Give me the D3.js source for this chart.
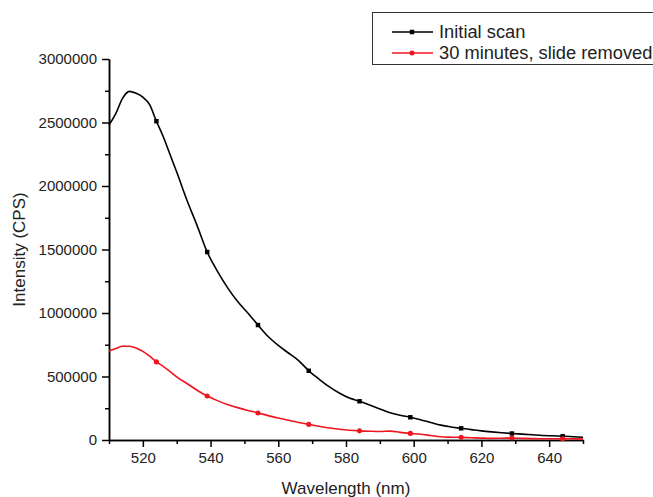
<!DOCTYPE html>
<html>
<head>
<meta charset="utf-8">
<script src="https://cdn.jsdelivr.net/npm/d3@7"></script>
<style>
  body { margin: 0; background: #fff; }
  svg { display: block; }
</style>
</head>
<body>
<div id="chart"></div>
<script>
// Wavelength (nm) sample points
const wavelengths = [510, 512, 514, 516, 518, 520, 522, 524, 526, 528, 530, 533, 536, 539, 542, 545, 548, 551, 554, 557,
  560, 563, 566, 569, 572, 575, 578, 581, 584, 587, 590, 593, 596, 599, 602, 605, 608, 611, 614, 617,
  620, 623, 626, 629, 632, 635, 638, 641, 644, 647, 650];

// Initial scan intensities (CPS)
const initialScan = [2480000, 2570000, 2690000, 2745000, 2730000, 2700000, 2640000, 2510000, 2390000, 2250000,
  2110000, 1890000, 1690000, 1480000, 1330000, 1200000, 1090000, 1000000, 905000, 815000,
  745000, 685000, 625000, 545000, 480000, 420000, 370000, 330000, 305000, 275000,
  245000, 215000, 195000, 179000, 160000, 138000, 117000, 103000, 92000, 82000,
  72000, 64000, 57000, 51000, 46000, 41000, 36000, 33000, 30000, 26000, 22000];

// 30 minutes, slide removed
const slideRemoved = [700000, 720000, 738000, 738000, 725000, 698000, 660000, 615000, 580000, 540000,
  497000, 445000, 392000, 346000, 310000, 280000, 255000, 233000, 213000, 192000,
  173000, 155000, 138000, 123000, 108000, 95000, 85000, 77000, 72000, 69000,
  67000, 70000, 60000, 52000, 45000, 35000, 25000, 22000, 21000, 18000,
  15000, 13000, 14000, 15000, 13000, 11000, 10000, 10000, 10000, 9000, 8000];

// wavelengths where symbols are drawn
const markerWavelengths = [524, 539, 554, 569, 584, 599, 614, 629, 644];

const seriesNames = ["Initial scan", "30 minutes, slide removed"];
const xTicks = [520, 540, 560, 580, 600, 620, 640];
const yTicks = [0, 500000, 1000000, 1500000, 2000000, 2500000, 3000000];

const width = 653, height = 497;
const margin = { top: 59, right: 70, bottom: 57, left: 109 };

const svg = d3.select("#chart").append("svg")
    .attr("width", width)
    .attr("height", height)
    .style("font-family", "'Liberation Sans', Arial, sans-serif");

const x = d3.scaleLinear().domain([510, 650]).range([margin.left, width - margin.right]);
const y = d3.scaleLinear().domain([0, 3000000]).range([height - margin.bottom, margin.top]);

// Axes with major and minor ticks
const xAxis = d3.axisBottom(x).tickValues(xTicks).tickSize(7).tickSizeOuter(0).tickPadding(5);
const xMinor = d3.axisBottom(x).tickValues(d3.range(510, 651, 20)).tickSize(4).tickFormat("").tickSizeOuter(0);
const yAxis = d3.axisLeft(y).tickValues(yTicks).tickSize(7).tickSizeOuter(0).tickPadding(5).tickFormat(d3.format("d"));
const yMinor = d3.axisLeft(y).tickValues(d3.range(250000, 3000000, 500000)).tickSize(4).tickFormat("").tickSizeOuter(0);

function styleAxis(g) {
  g.selectAll("path, line").attr("stroke", "#000").attr("stroke-width", 1.5);
  g.selectAll("text").attr("fill", "#222").style("font-size", "15px");
}

svg.append("g").attr("transform", `translate(0,${y(0)})`).call(xMinor).call(styleAxis);
svg.append("g").attr("transform", `translate(0,${y(0)})`).call(xAxis).call(styleAxis);
svg.append("g").attr("transform", `translate(${x(510)},0)`).call(yMinor).call(styleAxis);
svg.append("g").attr("transform", `translate(${x(510)},0)`).call(yAxis).call(styleAxis);

// Axis titles
svg.append("text")
    .attr("x", (x.range()[0] + x.range()[1]) / 2)
    .attr("y", 494)
    .attr("text-anchor", "middle")
    .style("font-size", "17px")
    .attr("fill", "#222")
    .text("Wavelength (nm)");

svg.append("text")
    .attr("transform", `translate(25,${(y.range()[0] + y.range()[1]) / 2}) rotate(-90)`)
    .attr("text-anchor", "middle")
    .style("font-size", "17px")
    .attr("fill", "#222")
    .text("Intensity (CPS)");

// Series
const series = [
  { name: seriesNames[0], values: initialScan, color: "#000", symbol: d3.symbolSquare },
  { name: seriesNames[1], values: slideRemoved, color: "#f0141e", symbol: d3.symbolCircle }
];

const line = d3.line()
    .x(d => x(d[0]))
    .y(d => y(d[1]))
    .curve(d3.curveMonotoneX);

series.forEach(s => {
  const pts = wavelengths.map((w, i) => [w, s.values[i]]);
  svg.append("path")
      .datum(pts)
      .attr("fill", "none")
      .attr("stroke", s.color)
      .attr("stroke-width", 1.6)
      .attr("d", line);

  svg.append("g").selectAll("path")
      .data(pts.filter(p => markerWavelengths.includes(p[0])))
      .join("path")
      .attr("transform", d => `translate(${x(d[0])},${y(d[1])})`)
      .attr("d", d3.symbol().type(s.symbol).size(20))
      .attr("fill", s.color);
});

// Legend
const legend = svg.append("g");
legend.append("rect")
    .attr("x", 372.5)
    .attr("y", 12.5)
    .attr("width", 300)
    .attr("height", 52)
    .attr("fill", "#fff")
    .attr("stroke", "#333")
    .attr("stroke-width", 1);

series.forEach((s, i) => {
  const ly = 32 + i * 21;
  legend.append("line")
      .attr("x1", 392).attr("x2", 433)
      .attr("y1", ly).attr("y2", ly)
      .attr("stroke", s.color)
      .attr("stroke-width", 1.6);
  legend.append("path")
      .attr("transform", `translate(412,${ly})`)
      .attr("d", d3.symbol().type(s.symbol).size(20))
      .attr("fill", s.color);
  legend.append("text")
      .attr("x", 439)
      .attr("y", ly + 6)
      .style("font-size", "18.3px")
      .attr("fill", "#222")
      .text(s.name);
});
</script>
</body>
</html>
